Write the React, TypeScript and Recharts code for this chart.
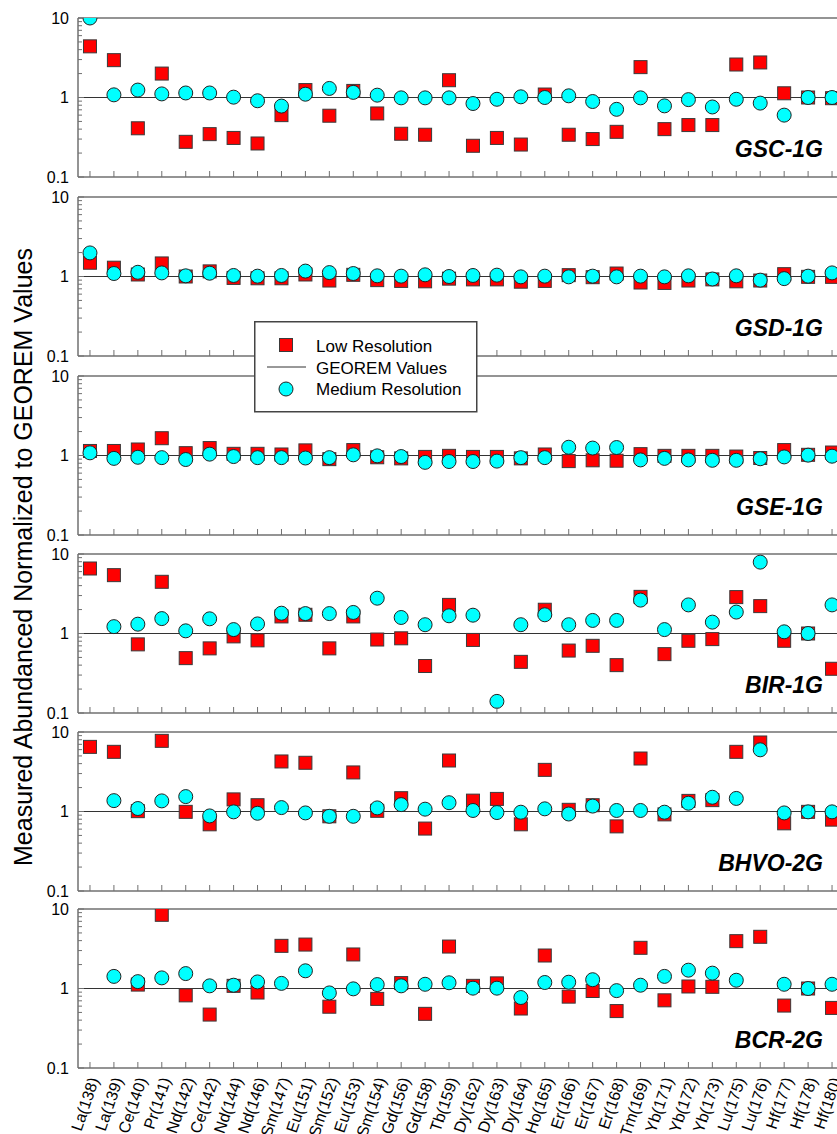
import { ScatterChart, Scatter, XAxis, YAxis, ReferenceLine } from "recharts";

const isotopes = [
  "La(138)", "La(139)", "Ce(140)", "Pr(141)", "Nd(142)", "Ce(142)", "Nd(144)", "Nd(146)",
  "Sm(147)", "Eu(151)", "Sm(152)", "Eu(153)", "Sm(154)", "Gd(156)", "Gd(158)", "Tb(159)",
  "Dy(162)", "Dy(163)", "Dy(164)", "Ho(165)", "Er(166)", "Er(167)", "Er(168)", "Tm(169)",
  "Yb(171)", "Yb(172)", "Yb(173)", "Lu(175)", "Lu(176)", "Hf(177)", "Hf(178)", "Hf(180)",
];

const gscLow = [4.4, 2.95, 0.41, 2.0, 0.277, 0.346, 0.31, 0.264, 0.6, 1.24, 0.59, 1.21, 0.63, 0.35, 0.34, 1.65, 0.247, 0.31, 0.256, 1.09, 0.34, 0.3, 0.37, 2.41, 0.4, 0.45, 0.45, 2.6, 2.76, 1.13, 1.0, 0.98];
const gscMed = [10.0, 1.08, 1.24, 1.11, 1.14, 1.14, 1.01, 0.91, 0.78, 1.1, 1.3, 1.16, 1.07, 0.99, 0.99, 0.99, 0.84, 0.95, 1.02, 1.0, 1.05, 0.89, 0.71, 0.99, 0.785, 0.94, 0.76, 0.95, 0.85, 0.6, 1.0, 1.0];

const gsdLow = [1.49, 1.29, 1.06, 1.46, 1.0, 1.16, 0.96, 0.95, 0.95, 1.06, 0.89, 1.05, 0.9, 0.88, 0.87, 0.94, 0.92, 0.92, 0.86, 0.88, 1.04, 0.98, 1.09, 0.84, 0.83, 0.89, 0.92, 0.87, 0.89, 1.07, 0.99, 0.99];
const gsdMed = [1.98, 1.09, 1.13, 1.11, 1.02, 1.1, 1.03, 1.01, 1.03, 1.17, 1.12, 1.09, 1.02, 1.01, 1.05, 1.0, 1.03, 1.04, 0.99, 1.01, 0.99, 1.01, 0.99, 1.01, 0.99, 1.02, 0.93, 1.02, 0.9, 0.94, 1.01, 1.11];

const gseLow = [1.14, 1.14, 1.19, 1.65, 1.07, 1.24, 1.05, 1.05, 1.03, 1.16, 0.9, 1.17, 0.95, 0.92, 0.96, 0.99, 0.96, 0.96, 0.92, 1.03, 0.85, 0.87, 0.86, 1.04, 0.99, 0.99, 0.99, 0.97, 0.93, 1.17, 1.02, 1.09];
const gseMed = [1.08, 0.92, 0.95, 0.94, 0.89, 1.04, 0.97, 0.94, 0.94, 0.93, 0.94, 1.02, 0.99, 0.97, 0.82, 0.84, 0.84, 0.85, 0.94, 0.94, 1.27, 1.24, 1.26, 0.88, 0.92, 0.88, 0.87, 0.87, 0.91, 0.96, 1.01, 0.98];

const birLow = [6.57, 5.42, 0.73, 4.47, 0.49, 0.65, 0.92, 0.82, 1.64, 1.72, 0.65, 1.64, 0.84, 0.87, 0.39, 2.29, 0.83, null, 0.44, 1.99, 0.61, 0.7, 0.4, 2.89, 0.55, 0.81, 0.85, 2.87, 2.21, 0.81, 1.0, 0.36];
const birMed = [null, 1.22, 1.31, 1.54, 1.08, 1.53, 1.12, 1.32, 1.8, 1.78, 1.78, 1.84, 2.78, 1.59, 1.29, 1.67, 1.7, 0.14, 1.29, 1.72, 1.29, 1.46, 1.46, 2.63, 1.12, 2.29, 1.39, 1.86, 7.9, 1.05, 1.0, 2.29];

const bhvoLow = [6.5, 5.63, 1.01, 7.74, 0.99, 0.69, 1.42, 1.2, 4.26, 4.1, 0.87, 3.1, 1.02, 1.47, 0.61, 4.38, 1.37, 1.44, 0.69, 3.34, 1.05, 1.2, 0.65, 4.64, 0.92, 1.36, 1.39, 5.63, 7.38, 0.71, 0.99, 0.79];
const bhvoMed = [null, 1.37, 1.09, 1.36, 1.54, 0.88, 0.99, 0.95, 1.12, 0.96, 0.87, 0.87, 1.11, 1.22, 1.07, 1.29, 1.03, 0.97, 0.98, 1.08, 0.93, 1.17, 1.03, 1.03, 0.98, 1.27, 1.51, 1.46, 5.97, 0.96, 0.99, 0.99];

const bcrLow = [null, null, 1.12, 8.45, 0.82, 0.47, 1.08, 0.89, 3.44, 3.57, 0.59, 2.68, 0.74, 1.17, 0.48, 3.37, 1.08, 1.16, 0.56, 2.6, 0.79, 0.93, 0.52, 3.25, 0.71, 1.06, 1.05, 3.94, 4.47, 0.61, 1.0, 0.57];
const bcrMed = [null, 1.42, 1.22, 1.36, 1.54, 1.08, 1.1, 1.21, 1.16, 1.67, 0.88, 0.99, 1.12, 1.08, 1.13, 1.18, 1.01, 1.01, 0.77, 1.19, 1.2, 1.29, 0.94, 1.1, 1.42, 1.7, 1.56, 1.27, null, 1.13, 1.0, 1.13];

const sampleNames = ["GSC-1G", "GSD-1G", "GSE-1G", "BIR-1G", "BHVO-2G", "BCR-2G"];
const lowSeries = [gscLow, gsdLow, gseLow, birLow, bhvoLow, bcrLow];
const medSeries = [gscMed, gsdMed, gseMed, birMed, bhvoMed, bcrMed];

const yTicks = [0.1, 0.2, 0.3, 0.4, 0.5, 0.6, 0.7, 0.8, 0.9, 1, 2, 3, 4, 5, 6, 7, 8, 9, 10];
const yMajor = [0.1, 1, 10];
const xTicks = isotopes.map((_, i) => i);

// layout (px)
const PLOT_TOPS = [18, 197, 376, 554, 732, 909];
const PLOT_H = 159;
const PAD_TOP = 12;
const AXIS_H = 70;
const CHART_W = 854;
const AXIS_COLOR = "#707070";
const FONT = "'Liberation Sans', Arial, sans-serif";

function toPoints(values: (number | null)[]) {
  return values
    .map((v, i) => (v == null ? null : { x: i, y: v }))
    .filter((p) => p !== null) as { x: number; y: number }[];
}

function SquareMark(props: any) {
  const { cx, cy } = props;
  if (cx == null || cy == null) return null;
  return (
    <rect x={cx - 6.5} y={cy - 6.5} width={13} height={13} fill="#ff0000" stroke="#3a3a3a" strokeWidth={1} />
  );
}

function CircleMark(props: any) {
  const { cx, cy } = props;
  if (cx == null || cy == null) return null;
  return <circle cx={cx} cy={cy} r={7} fill="#00ffff" stroke="#222" strokeWidth={1} />;
}

function YTick(props: any) {
  const { x, y, payload } = props;
  const major = yMajor.includes(payload.value);
  return (
    <g>
      <line x1={x} x2={x + (major ? 6 : 4)} y1={y} y2={y} stroke={AXIS_COLOR} strokeWidth={1} />
      {major && (
        <text x={x - 9} y={y} dy="0.35em" textAnchor="end" fontSize={16} fill="#000" fontFamily={FONT}>
          {payload.value}
        </text>
      )}
    </g>
  );
}

const makeXTick = (showLabel: boolean) => (props: any) => {
  const { x, y, payload } = props;
  const lx = x + 4;
  const ly = y + 10;
  return (
    <g>
      <line x1={x} x2={x} y1={y} y2={y - 6} stroke={AXIS_COLOR} strokeWidth={1} />
      {showLabel && (
        <text
          x={lx}
          y={ly}
          dy="0.35em"
          textAnchor="end"
          fontSize={16}
          fill="#000"
          fontFamily={FONT}
          transform={`rotate(-71, ${lx}, ${ly})`}
        >
          {isotopes[payload.value]}
        </text>
      )}
    </g>
  );
};

function Panel({ index }: { index: number }) {
  const last = index === sampleNames.length - 1;
  return (
    <div style={{ position: "absolute", left: 0, top: PLOT_TOPS[index] - PAD_TOP }}>
      <ScatterChart
        width={CHART_W}
        height={PAD_TOP + PLOT_H + AXIS_H}
        margin={{ top: PAD_TOP, right: 10, left: 18, bottom: 0 }}
      >
        <XAxis
          type="number"
          dataKey="x"
          domain={[-0.5, 31.5]}
          ticks={xTicks}
          interval={0}
          height={AXIS_H}
          tickSize={0}
          tickMargin={0}
          tickLine={false}
          axisLine={{ stroke: AXIS_COLOR, strokeWidth: 1.5 }}
          tick={makeXTick(last)}
          allowDataOverflow
        />
        <YAxis
          type="number"
          dataKey="y"
          scale="log"
          domain={[0.1, 10]}
          ticks={yTicks}
          interval={0}
          width={60}
          tickSize={0}
          tickMargin={0}
          tickLine={false}
          axisLine={{ stroke: AXIS_COLOR, strokeWidth: 1.5 }}
          tick={<YTick />}
          allowDataOverflow
        />
        <ReferenceLine y={10} stroke={AXIS_COLOR} strokeWidth={1.5} />
        <ReferenceLine y={1} stroke="#333" strokeWidth={1} />
        <Scatter data={toPoints(lowSeries[index])} shape={SquareMark} isAnimationActive={false} />
        <Scatter data={toPoints(medSeries[index])} shape={CircleMark} isAnimationActive={false} />
      </ScatterChart>
    </div>
  );
}

function LegendBox() {
  return (
    <div style={{ position: "absolute", left: 254, top: 321, zIndex: 5 }}>
      <svg width={224} height={92}>
        <rect x={0.75} y={0.75} width={222} height={90} fill="#fff" stroke="#444" strokeWidth={1.5} />
        <rect x={32 - 6.5} y={24 - 6.5} width={13} height={13} fill="#ff0000" stroke="#3a3a3a" />
        <text x={62} y={31} fontSize={17} fontFamily={FONT} fill="#000">Low Resolution</text>
        <line x1={13} x2={52} y1={46} y2={46} stroke="#333" strokeWidth={1} />
        <text x={62} y={52.5} fontSize={17} fontFamily={FONT} fill="#000">GEOREM Values</text>
        <circle cx={32} cy={68} r={7} fill="#00ffff" stroke="#222" />
        <text x={62} y={74} fontSize={17} fontFamily={FONT} fill="#000">Medium Resolution</text>
      </svg>
    </div>
  );
}

export default function App() {
  return (
    <div
      style={{
        position: "absolute",
        left: 0,
        top: 0,
        width: 837,
        height: 1134,
        overflow: "hidden",
        background: "#fff",
        fontFamily: FONT,
      }}
    >
      {sampleNames.map((_, i) => (
        <Panel key={i} index={i} />
      ))}
      <svg
        width={837}
        height={1134}
        style={{ position: "absolute", left: 0, top: 0, pointerEvents: "none", zIndex: 4 }}
      >
        <text
          x={32}
          y={557}
          transform="rotate(-90, 32, 557)"
          textAnchor="middle"
          fontSize={25}
          fontFamily={FONT}
          fill="#000"
        >
          Measured Abundanced Normalized to GEOREM Values
        </text>
        {sampleNames.map((name, i) => (
          <text
            key={name}
            x={823}
            y={PLOT_TOPS[i] + PLOT_H - 20}
            textAnchor="end"
            fontSize={23}
            fontWeight="bold"
            fontStyle="italic"
            fontFamily={FONT}
            fill="#000"
          >
            {name}
          </text>
        ))}
      </svg>
      <LegendBox />
    </div>
  );
}
